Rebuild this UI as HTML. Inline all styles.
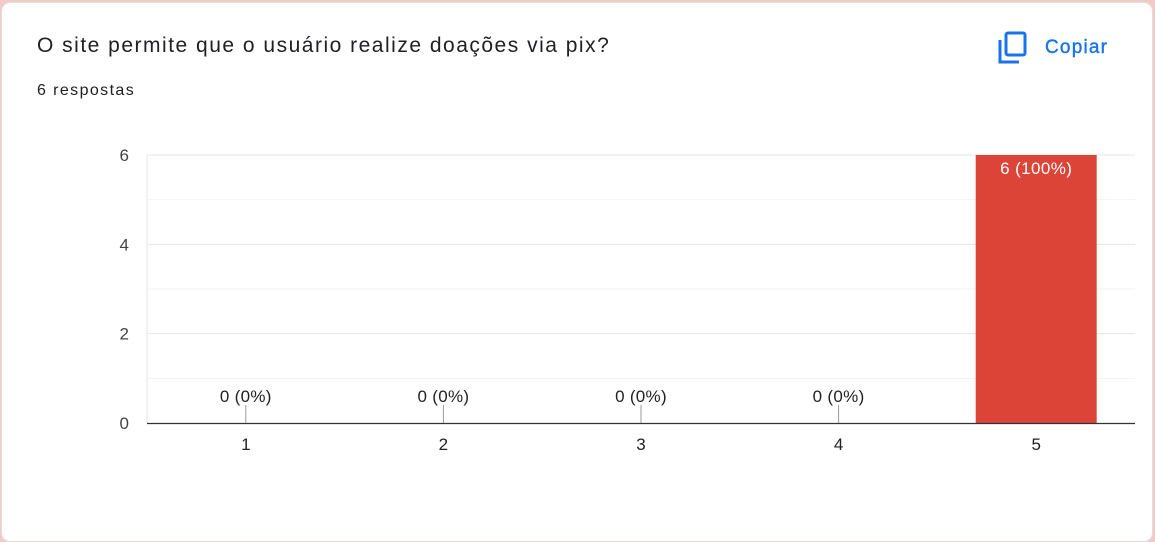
<!DOCTYPE html>
<html><head><meta charset="utf-8">
<style>
html,body{margin:0;padding:0;width:1155px;height:536px;overflow:hidden;background:#f3cbc6;}
.card{position:absolute;left:1px;top:2px;width:1152px;height:540px;background:#fff;border-radius:9px;border:1px solid #e6dcdb;box-sizing:border-box;}
.title{position:absolute;left:37px;top:34px;font:21px "Liberation Sans",sans-serif;letter-spacing:1.5px;color:#202124;}
.sub{position:absolute;left:37px;top:82px;font:16px "Liberation Sans",sans-serif;letter-spacing:1.4px;color:#202124;}
.copy{position:absolute;left:998px;top:31px;display:flex;align-items:center;cursor:pointer;}
.copy span{font:19px "Liberation Sans",sans-serif;color:#1a73e8;margin-left:17px;letter-spacing:1.2px;-webkit-text-stroke:0.4px #1a73e8;}
svg.chart{position:absolute;left:0;top:0;}
</style></head>
<body>
<div class="card"></div>
<div class="title">O site permite que o usuário realize doações via pix?</div>
<div class="sub">6 respostas</div>
<div class="copy">
<svg width="30" height="33" viewBox="0 0 30 33">
<path d="M2 9 V31 H21" fill="none" stroke="#1a73e8" stroke-width="3"/>
<rect x="8" y="2" width="19" height="22" rx="2" fill="none" stroke="#1a73e8" stroke-width="3"/>
</svg>
<span>Copiar</span></div>
<svg class="chart" width="1155" height="536" id="chart"></svg>
<script>
const categories=["1","2","3","4","5"];
const values=[0,0,0,0,6];
const valueLabels=["0 (0%)","0 (0%)","0 (0%)","0 (0%)","6 (100%)"];
const yTicks=[0,2,4,6];
const yMinor=[1,3,5];
const svg=document.getElementById('chart');
const NS="http://www.w3.org/2000/svg";
const X0=147,X1=1135,Y0=423,Y1=155,YMAX=6;
const y=v=>Y0-(v/YMAX)*(Y0-Y1);
const band=(X1-X0)/categories.length;
const xc=i=>X0+band*(i+0.5);
function mk(t,a,txt){const e=document.createElementNS(NS,t);for(const k in a)e.setAttribute(k,a[k]);if(txt!==undefined)e.textContent=txt;svg.appendChild(e);return e;}
yMinor.forEach(v=>{const l=mk('line',{x1:X0,x2:X1,y1:y(v),y2:y(v),stroke:'#f3f3f3','stroke-width':1});

});
yTicks.forEach(v=>{if(v>0){const l=mk('line',{x1:X0,x2:X1,y1:y(v),y2:y(v),stroke:'#e6e6e6','stroke-width':1});

}
const t=mk('text',{x:129,y:y(v)+6,'text-anchor':'end','font-family':'Liberation Sans, sans-serif','font-size':17,fill:'#444'},String(v));

});
const vax=mk('line',{x1:X0,x2:X0,y1:Y1,y2:Y0,stroke:'#e6e6e6','stroke-width':1});


categories.forEach((c,i)=>{
 const cx=xc(i),bw=121;
 if(values[i]>0){
  const r=mk('rect',{x:cx-bw/2,y:y(values[i]),width:bw,height:Y0-y(values[i]),fill:'#db4437'});
  
  
  const t=mk('text',{x:cx,y:y(values[i])+19,'text-anchor':'middle','font-family':'Liberation Sans, sans-serif','font-size':17,'letter-spacing':0.4,fill:'#fff'},valueLabels[i]);
  
  
 } else {
  const l=mk('line',{x1:cx,x2:cx,y1:405,y2:Y0,stroke:'#999','stroke-width':1});
  
  
  const t=mk('text',{x:cx,y:402,'text-anchor':'middle','font-family':'Liberation Sans, sans-serif','font-size':17,'letter-spacing':0.3,fill:'#222'},valueLabels[i]);
  
  
 }
 const xl=mk('text',{x:cx,y:450,'text-anchor':'middle','font-family':'Liberation Sans, sans-serif','font-size':17,fill:'#222'},c);
 
 
});
const ax=mk('line',{x1:X0,x2:X1,y1:Y0+0.5,y2:Y0+0.5,stroke:'#333','stroke-width':1.3});


</script>
</body></html>
